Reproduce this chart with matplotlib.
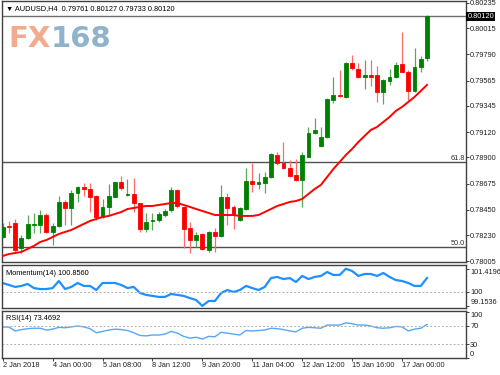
import numpy as np
import matplotlib.pyplot as plt

plt.rcParams['font.family'] = ['Liberation Sans', 'DejaVu Sans']

# AUDUSD H4 candles
opens = [0.78213, 0.78308, 0.78334, 0.78118, 0.78205, 0.78317, 0.78317, 0.78403, 0.78257, 0.78308,
         0.78516, 0.78464, 0.78594, 0.78645, 0.78628, 0.78568, 0.78386, 0.78473, 0.78559, 0.78689,
         0.78576, 0.78585, 0.78507, 0.78282, 0.78352, 0.78360, 0.78403, 0.78447, 0.78619, 0.78473,
         0.78291, 0.78187, 0.78239, 0.78101, 0.78257, 0.78222, 0.78559, 0.78473, 0.78360, 0.78455,
         0.78697, 0.78671, 0.78680, 0.78732, 0.78922, 0.78853, 0.78809, 0.78749, 0.78706, 0.78905,
         0.79112, 0.78999, 0.79077, 0.79397, 0.79440, 0.79423, 0.79717, 0.79665, 0.79596, 0.79613,
         0.79613, 0.79466, 0.79561, 0.79596, 0.79708, 0.79639, 0.79475, 0.79682, 0.79761]
highs = [0.78334, 0.78352, 0.78369, 0.78231, 0.78403, 0.78421, 0.78447, 0.78421, 0.78334, 0.78568,
         0.78533, 0.78619, 0.78654, 0.78680, 0.78680, 0.78576, 0.78542, 0.78671, 0.78692, 0.78740,
         0.78714, 0.78723, 0.78510, 0.78421, 0.78421, 0.78429, 0.78455, 0.78645, 0.78625, 0.78481,
         0.78343, 0.78257, 0.78248, 0.78265, 0.78291, 0.78663, 0.78594, 0.78490, 0.78470, 0.78809,
         0.78853, 0.78766, 0.78775, 0.78939, 0.78948, 0.79034, 0.78879, 0.78887, 0.78948, 0.79164,
         0.79241, 0.79164, 0.79410, 0.79596, 0.79656, 0.79722, 0.79786, 0.79717, 0.79743, 0.79743,
         0.79691, 0.79578, 0.79665, 0.79725, 0.79985, 0.79656, 0.79846, 0.79777, 0.80127]
lows = [0.78205, 0.78248, 0.78075, 0.78075, 0.78200, 0.78248, 0.78248, 0.78248, 0.78144, 0.78300,
        0.78317, 0.78317, 0.78516, 0.78568, 0.78429, 0.78360, 0.78377, 0.78403, 0.78555, 0.78619,
        0.78570, 0.78429, 0.78257, 0.78257, 0.78274, 0.78343, 0.78386, 0.78429, 0.78464, 0.78118,
        0.78075, 0.78127, 0.78101, 0.78084, 0.78084, 0.78213, 0.78317, 0.78282, 0.78355, 0.78447,
        0.78602, 0.78628, 0.78594, 0.78723, 0.78835, 0.78800, 0.78732, 0.78697, 0.78473, 0.78900,
        0.79105, 0.78995, 0.79070, 0.79371, 0.79423, 0.79418, 0.79656, 0.79587, 0.79492, 0.79518,
        0.79380, 0.79362, 0.79527, 0.79587, 0.79635, 0.79397, 0.79466, 0.79639, 0.79733]
closes = [0.78300, 0.78300, 0.78101, 0.78205, 0.78326, 0.78326, 0.78403, 0.78257, 0.78308, 0.78516,
          0.78464, 0.78594, 0.78645, 0.78628, 0.78559, 0.78386, 0.78473, 0.78568, 0.78689, 0.78637,
          0.78585, 0.78507, 0.78282, 0.78343, 0.78360, 0.78412, 0.78438, 0.78619, 0.78481, 0.78282,
          0.78187, 0.78231, 0.78110, 0.78257, 0.78222, 0.78559, 0.78464, 0.78403, 0.78464, 0.78697,
          0.78671, 0.78689, 0.78732, 0.78930, 0.78853, 0.78809, 0.78740, 0.78706, 0.78922, 0.79112,
          0.79138, 0.79077, 0.79406, 0.79440, 0.79432, 0.79717, 0.79673, 0.79596, 0.79613, 0.79596,
          0.79466, 0.79570, 0.79596, 0.79699, 0.79639, 0.79475, 0.79682, 0.79751, 0.80120]

# moving average (red line)
ma = [0.78049, 0.78066, 0.78075, 0.78084, 0.78110, 0.78136, 0.78170, 0.78187, 0.78213, 0.78239,
      0.78257, 0.78274, 0.78300, 0.78326, 0.78352, 0.78369, 0.78386, 0.78395, 0.78412, 0.78429,
      0.78455, 0.78464, 0.78473, 0.78481, 0.78481, 0.78490, 0.78498, 0.78507, 0.78507, 0.78490,
      0.78473, 0.78455, 0.78438, 0.78421, 0.78403, 0.78403, 0.78403, 0.78403, 0.78395, 0.78395,
      0.78395, 0.78403, 0.78429, 0.78455, 0.78481, 0.78498, 0.78516, 0.78524, 0.78542, 0.78585,
      0.78628, 0.78663, 0.78732, 0.78801, 0.78861, 0.78922, 0.78974, 0.79034, 0.79086, 0.79138,
      0.79164, 0.79207, 0.79250, 0.79302, 0.79337, 0.79380, 0.79423, 0.79475, 0.79527]

momentum = [100.55, 100.43, 100.31, 100.37, 100.49, 100.24, 100.18, 100.18, 100.24, 100.67,
            100.18, 100.31, 100.55, 100.37, 100.37, 100.12, 100.55, 100.55, 100.55, 100.43,
            100.24, 100.31, 99.94, 99.82, 99.76, 99.70, 99.70, 99.88, 99.82, 99.76,
            99.63, 99.51, 99.1536, 99.45, 99.45, 99.94, 100.12, 100.00, 100.12, 100.37,
            100.24, 100.12, 100.31, 100.85, 100.92, 100.79, 100.85, 100.61, 100.98, 100.79,
            100.92, 100.98, 101.22, 101.04, 101.04, 101.4196, 101.28, 100.98, 101.10, 101.10,
            100.98, 101.16, 100.92, 100.73, 100.67, 100.55, 100.37, 100.37, 100.856]

rsi = [67.8, 67.5, 59, 62, 64, 65, 65, 61, 63, 67,
       66, 68, 70, 68, 64, 55, 58, 61, 63, 62,
       60, 55, 49, 48, 50, 50, 52, 58, 54, 47,
       43, 45, 41, 47, 46, 56, 54, 52, 50, 60,
       59, 60, 61, 65, 64, 62, 59, 57, 65, 67,
       66, 65, 72, 72, 72, 77, 75, 72, 72, 70,
       66, 65, 66, 69, 68, 59, 63, 65, 73.4692]

price_ticks = [0.80235, 0.80015, 0.79790, 0.79565, 0.79345, 0.79120,
               0.78900, 0.78675, 0.78450, 0.78230, 0.78005]
date_labels = ['2 Jan 2018', '4 Jan 00:00', '5 Jan 08:00', '8 Jan 12:00', '9 Jan 20:00',
               '11 Jan 04:00', '12 Jan 12:00', '15 Jan 16:00', '17 Jan 00:00']
fib_levels = [0.78861, 0.78127]
fib_names = ['61.8', '50.0']
bid = 0.80120

n = len(opens)
x = np.arange(n)
border = '#404040'
fs = 5.3

fig = plt.figure(figsize=(5, 3.75), dpi=100)
ax = fig.add_axes([0.004, 0.3013, 0.928, 0.696])
ax_m = fig.add_axes([0.004, 0.1787, 0.928, 0.1146], sharex=ax)
ax_r = fig.add_axes([0.004, 0.0453, 0.928, 0.1254], sharex=ax)

# candles
o = np.array(opens)
c = np.array(closes)
up = c >= o
col = np.where(up, '#008000', '#ff0000')
wick = np.where(up, '#5aa85a', '#ff6a6a')
ax.vlines(x, lows, highs, colors=wick, linewidth=0.9, zorder=2)
ax.bar(x, c - o, bottom=o, width=0.62, color=col, edgecolor=col, linewidth=0.6, zorder=3)
ax.plot(x, ma, color='#ff0000', linewidth=1.4, zorder=4)

# levels and bid line
for lv, nm in zip(fib_levels, fib_names):
    ax.axhline(lv, color='#505050', linewidth=1.0, zorder=1)
    ax.text(0.997, lv, nm, transform=ax.get_yaxis_transform(), ha='right', va='bottom',
            fontsize=fs, color='#303030')
ax.axhline(bid, color='#707070', linewidth=1.0, zorder=1)
ax.text(1.003, bid, '0.80120', transform=ax.get_yaxis_transform(), ha='left', va='center',
        fontsize=fs, color='white', bbox=dict(boxstyle='square,pad=0.15', fc='black', ec='none'))

ax.set_ylim(0.77997, 0.80252)
ax.set_xlim(-0.11, 74.25)
ax.set_yticks(price_ticks)
ax.set_yticklabels(['%.5f' % t for t in price_ticks])

ax.text(0.008, 0.973, '\u25bc AUDUSD,H4  0.79761 0.80127 0.79733 0.80120', transform=ax.transAxes,
        fontsize=fs, va='center', ha='left', color='black')

# watermark logo
fx = ax.text(0.013, 0.855, 'FX', transform=ax.transAxes, fontsize=21, fontweight='bold',
             color='#f3ab90', va='center', ha='left', family='DejaVu Sans')
ax.annotate('168', xy=(1, 0.5), xycoords=fx, fontsize=21, fontweight='bold',
            color='#90b2cb', va='center', ha='left', family='DejaVu Sans')

# momentum
ax_m.plot(x, momentum, color='#1e90ff', linewidth=1.6)
ax_m.axhline(100, color='#b0b0b0', linewidth=0.7, linestyle=(0, (2, 2)))
ax_m.set_ylim(99.024, 101.647)
ax_m.set_yticks([101.4196, 100, 99.1536])
ax_m.set_yticklabels(['101.4196', '100', '99.1536'])
ax_m.text(0.009, 0.8, 'Momentum(14) 100.8560', transform=ax_m.transAxes, fontsize=fs, va='center')

# rsi
ax_r.plot(x, rsi, color='#56a8f5', linewidth=1.0)
for lv in [70, 30]:
    ax_r.axhline(lv, color='#b0b0b0', linewidth=0.7, linestyle=(0, (2, 2)))
ax_r.set_ylim(-1.1, 103.3)
ax_r.set_yticks([100, 70, 30, 0])
ax_r.set_yticklabels(['100', '70', '30', '0'])
ax_r.text(0.009, 0.85, 'RSI(14) 73.4692', transform=ax_r.transAxes, fontsize=fs, va='center')

for a in (ax, ax_m, ax_r):
    a.yaxis.tick_right()
    a.tick_params(axis='y', labelsize=fs, length=2, width=0.6, pad=1, colors='#202020')
    for s in a.spines.values():
        s.set_color(border)
        s.set_linewidth(1.0)
    a.set_facecolor('white')

for a in (ax, ax_m):
    a.tick_params(axis='x', bottom=False, labelbottom=False)

ax_m.get_yticklabels()[0].set_va('top')
ax_m.get_yticklabels()[2].set_va('bottom')
ax_r.get_yticklabels()[0].set_va('top')
ax_r.get_yticklabels()[3].set_va('bottom')

ax_r.set_xticks(np.arange(0, 8 * len(date_labels), 8))
ax_r.set_xticklabels(date_labels, ha='left')
ax_r.tick_params(axis='x', labelsize=fs, length=2, width=0.6, pad=1, colors='#202020')

fig.savefig('out.png', dpi=100, facecolor='white')
